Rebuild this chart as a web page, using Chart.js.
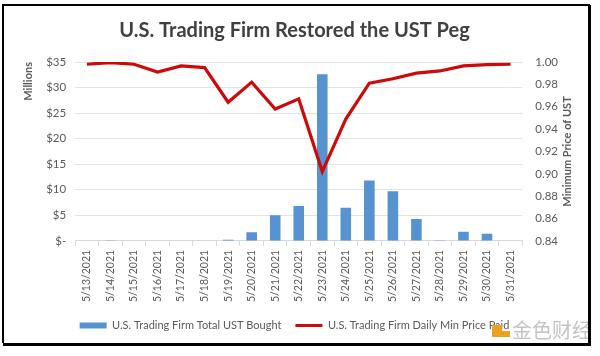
<!DOCTYPE html>
<html>
<head>
<meta charset="utf-8">
<script src="https://cdn.jsdelivr.net/npm/chart.js@4"></script>
<style>
html,body{margin:0;padding:0;background:#fff;}
#wrap{position:relative;width:600px;height:356px;}
</style>
</head>
<body>
<div id="wrap"><canvas id="c" width="600" height="356"></canvas></div>
<script>
const dates = ["5/13/2021","5/14/2021","5/15/2021","5/16/2021","5/17/2021","5/18/2021","5/19/2021","5/20/2021","5/21/2021","5/22/2021","5/23/2021","5/24/2021","5/25/2021","5/26/2021","5/27/2021","5/28/2021","5/29/2021","5/30/2021","5/31/2021"];
const ustBought = [0, 0.1, 0, 0, 0, 0, 0.2, 1.7, 5.0, 6.8, 32.6, 6.5, 11.8, 9.7, 4.3, 0.1, 1.8, 1.4, 0];
const minPrice = [0.998, 0.9995, 0.998, 0.991, 0.9965, 0.995, 0.964, 0.982, 0.958, 0.967, 0.902, 0.949, 0.981, 0.985, 0.990, 0.992, 0.9965, 0.9977, 0.998];
const leftTicks = [0, 5, 10, 15, 20, 25, 30, 35];
const rightTicks = [0.84, 0.86, 0.88, 0.90, 0.92, 0.94, 0.96, 0.98, 1.00];
const rightTitle = 'Minimum Price of UST';

const FONT = "Lato, 'Open Sans', sans-serif";
const GREY = '#595959';

const framePlugin = {
  id: 'frame',
  afterDraw(chart) {
    const ctx = chart.ctx;
    const area = chart.chartArea;
    ctx.save();
    // right axis title, reading bottom-to-top
    ctx.translate(567, (area.top + area.bottom) / 2);
    ctx.rotate(-Math.PI / 2);
    ctx.fillStyle = GREY;
    ctx.font = "bold 11px " + FONT;
    ctx.textAlign = 'center';
    ctx.textBaseline = 'middle';
    ctx.fillText(rightTitle, 0, 0);
    ctx.restore();
    ctx.save();
    // watermark
    ctx.fillStyle = '#f0a020';
    ctx.fillRect(492, 325, 10, 12);
    ctx.fillRect(502, 331, 8, 6);
    ctx.fillStyle = 'rgba(180,180,180,0.8)';
    ctx.font = "20px 'Noto Sans CJK SC'";
    ctx.textBaseline = 'middle';
    ctx.fillText('金色财经', 512, 330);
    // frame
    ctx.strokeStyle = '#000';
    ctx.lineWidth = 2;
    ctx.beginPath();
    ctx.moveTo(3, 343); ctx.lineTo(3, 5); ctx.lineTo(590, 5);
    ctx.stroke();
    ctx.lineWidth = 3;
    ctx.beginPath();
    ctx.moveTo(589.5, 5); ctx.lineTo(589.5, 344.5); ctx.lineTo(3, 344.5);
    ctx.stroke();
    ctx.restore();
  }
};

new Chart(document.getElementById('c'), {
  data: {
    labels: dates,
    datasets: [
      {
        type: 'bar',
        label: 'U.S. Trading Firm Total UST Bought',
        data: ustBought,
        backgroundColor: '#5693d0',
        borderWidth: 0,
        barPercentage: 0.45,
        categoryPercentage: 1,
        yAxisID: 'y',
        order: 1
      },
      {
        type: 'line',
        label: 'U.S. Trading Firm Daily Min Price Paid',
        data: minPrice,
        borderColor: '#cc0a0a',
        backgroundColor: '#cc0a0a',
        borderWidth: 3.2,
        pointRadius: 0,
        tension: 0,
        yAxisID: 'y1',
        order: 0
      }
    ]
  },
  options: {
    responsive: false,
    animation: false,
    devicePixelRatio: 1,
    layout: { padding: { left: 18, right: 29, top: 0, bottom: 15 } },
    plugins: {
      title: {
        display: true,
        text: 'U.S. Trading Firm Restored the UST Peg',
        color: '#404040',
        font: { family: FONT, size: 20, weight: 'bold' },
        padding: { top: 19, bottom: 19 }
      },
      legend: {
        position: 'bottom',
        labels: {
          sort: (a, b) => a.datasetIndex - b.datasetIndex,
          usePointStyle: true,
          generateLabels(chart) {
            const items = Chart.defaults.plugins.legend.labels.generateLabels(chart);
            items.forEach(it => {
              it.pointStyle = it.datasetIndex === 0 ? 'rect' : 'line';
              if (it.datasetIndex === 1) { it.lineWidth = 3; it.strokeStyle = '#cc0a0a'; }
              else { it.lineWidth = 0; }
            });
            return items;
          },
          pointStyleWidth: 27,
          boxHeight: 6,
          color: GREY,
          padding: 14,
          font: { family: FONT, size: 11 }
        }
      },
      tooltip: { enabled: false }
    },
    scales: {
      x: {
        grid: { display: true, drawOnChartArea: false, drawTicks: true, tickLength: 5, color: '#d9d9d9', offset: true },
        border: { display: true, color: '#d9d9d9' },
        ticks: {
          minRotation: 90, maxRotation: 90, autoSkip: false,
          color: GREY, font: { family: FONT, size: 10.5 }, padding: 4
        }
      },
      y: {
        position: 'left',
        min: 0, max: 35,
        afterBuildTicks(scale) { scale.ticks = leftTicks.map(v => ({ value: v })); },
        ticks: {
          color: GREY, font: { family: FONT, size: 11.5 }, padding: 9,
          callback: v => v === 0 ? '$-' : '$' + v
        },
        grid: { color: '#e3e3e3', drawTicks: false },
        border: { display: false },
        title: {
          display: true, text: 'Millions', align: 'end',
          color: GREY, font: { family: FONT, size: 11, weight: 'bold' }, padding: { bottom: 2 }
        }
      },
      y1: {
        position: 'right',
        min: 0.84, max: 1.00,
        afterBuildTicks(scale) { scale.ticks = rightTicks.map(v => ({ value: v })); },
        ticks: {
          color: GREY, font: { family: FONT, size: 11.5 }, padding: 13,
          callback: v => Number(v).toFixed(2)
        },
        grid: { drawOnChartArea: false, drawTicks: false },
        border: { display: false }
      }
    }
  },
  plugins: [framePlugin]
});
</script>
</body>
</html>
